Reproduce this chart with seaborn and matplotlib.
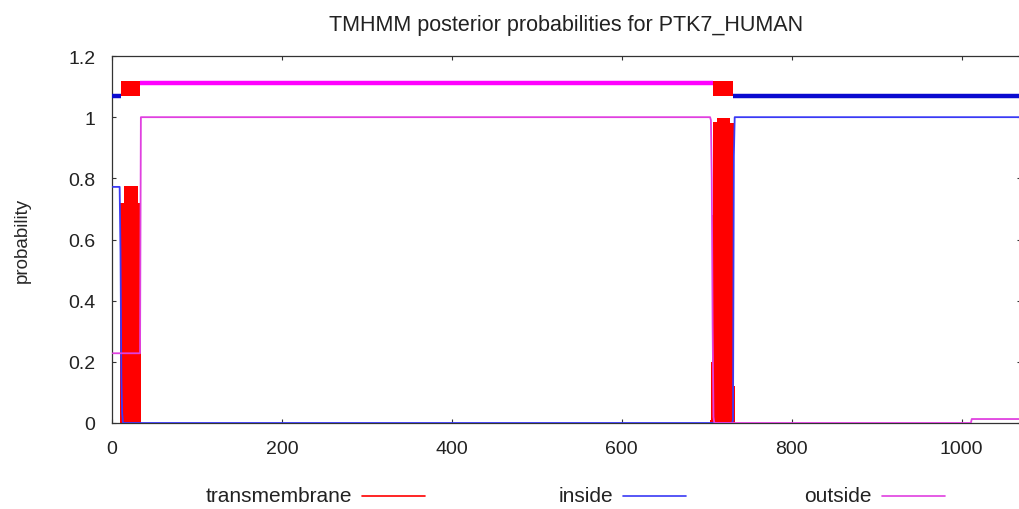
import matplotlib
matplotlib.use("Agg")
import matplotlib.pyplot as plt
from matplotlib.lines import Line2D
from matplotlib.ticker import FuncFormatter
import seaborn as sns

# ---------------- data ----------------
protein = "PTK7_HUMAN"
seq_length = 1070

# posterior probability of "inside" (residue, probability) breakpoints
inside_res = [1, 9, 10, 11, 12, 13, 730, 731, 732, 733, 1070]
inside_prob = [0.772, 0.772, 0.56, 0.15, 0.03, 0.0, 0.0, 0.01, 0.874, 1.0, 1.0]

# posterior probability of "outside"
outside_res = [1, 33, 34, 704, 705, 706, 707, 708, 709, 1011, 1012, 1070]
outside_prob = [0.228, 0.228, 1.0, 1.0, 0.99, 0.80, 0.32, 0.02, 0.0, 0.0, 0.013, 0.013]

# posterior probability of "transmembrane" (impulses), non-zero residues only
tm_res = [11, 12, 13, 14, 15, 16, 17, 18, 19, 20, 21, 22, 23, 24, 25, 26, 27, 28,
          29, 30, 31, 32, 33,
          705, 706, 707, 708, 709, 710, 711, 712, 713, 714, 715, 716, 717, 718,
          719, 720, 721, 722, 723, 724, 725, 726, 727, 728, 729, 730, 731, 732]
tm_prob = [0.72, 0.72, 0.72, 0.72, 0.775, 0.775, 0.775, 0.775, 0.775, 0.775, 0.775,
           0.775, 0.775, 0.775, 0.775, 0.775, 0.775, 0.775, 0.775, 0.775, 0.72, 0.72, 0.72,
           0.01, 0.20, 0.68, 0.985, 0.985, 0.985, 0.985, 0.985, 0.997, 0.997, 0.997,
           0.997, 0.997, 0.997, 0.997, 0.997, 0.997, 0.997, 0.997, 0.997, 0.997, 0.997,
           0.98, 0.98, 0.98, 0.98, 0.98, 0.12]

# predicted topology
topo_label = ["inside", "TMhelix", "outside", "TMhelix", "inside"]
topo_start = [1, 11, 34, 708, 732]
topo_end = [10, 33, 707, 731, 1070]

x_ticks = [0, 200, 400, 600, 800, 1000]
y_ticks = [0, 0.2, 0.4, 0.6, 0.8, 1.0, 1.2]
legend_labels = ["transmembrane", "inside", "outside"]

# ---------------- style ----------------
sns.set_style("ticks")
plt.rcParams["font.family"] = ["Liberation Sans", "DejaVu Sans"]
plt.rcParams["text.color"] = "#222222"

C_TM = "#ff0000"
C_IN = "#3a3af5"
C_IN_TOP = "#0a0ad0"
C_OUT = "#e040e0"
C_OUT_TOP = "#ff00ff"

W, H = 1019, 510
fig = plt.figure(figsize=(W / 100, H / 100), dpi=100)
ax = fig.add_axes([112 / W, 86 / H, (1021 - 112) / W, 367 / H])

# transmembrane impulses
ax.bar(tm_res, tm_prob, width=2.0, color=C_TM, linewidth=0, zorder=2)

# inside / outside posterior lines
sns.lineplot(x=inside_res, y=inside_prob, ax=ax, color=C_IN, linewidth=1.3,
             estimator=None, zorder=3)
sns.lineplot(x=outside_res, y=outside_prob, ax=ax, color=C_OUT, linewidth=1.3,
             estimator=None, zorder=4)

# topology bar above the curves
for lab, s, e in zip(topo_label, topo_start, topo_end):
    if lab == "inside":
        ax.hlines(1.068, s - 0.5, e + 0.5, color=C_IN_TOP, linewidth=3.2, zorder=3)
    elif lab == "outside":
        ax.hlines(1.112, s - 0.5, e + 0.5, color=C_OUT_TOP, linewidth=3.2, zorder=3)
    else:
        ax.fill_between([s - 0.5, e + 0.5], 1.068, 1.117, color=C_TM, linewidth=0, zorder=4)

ax.set_xlim(0, seq_length)
ax.set_ylim(0, 1.2)
ax.set_xticks(x_ticks)
ax.set_yticks(y_ticks)
ax.yaxis.set_major_formatter(FuncFormatter(lambda v, p: f"{v:g}"))
ax.tick_params(direction="in", top=True, right=True, length=3.2, width=0.8,
               labelsize=14, colors="#333333", labelcolor="#222222")
ax.tick_params(axis="x", pad=12)
ax.tick_params(axis="y", pad=12)
for sp in ax.spines.values():
    sp.set_visible(True)
    sp.set_color("#333333")
    sp.set_linewidth(0.9)

ax.set_xlabel("")
ax.set_ylabel("probability", fontsize=13.5)
ax.yaxis.set_label_coords(-0.089, 0.5)
ax.set_title(f"TMHMM posterior probabilities for {protein}", fontsize=15.5, pad=19)

# legend in gnuplot style: text then line sample
leg_colors = [C_TM, C_IN, C_OUT]
leg_text_end = [352, 613, 872]
for lab, col, xe in zip(legend_labels, leg_colors, leg_text_end):
    y = 1 - 497 / H
    fig.text(xe / W, y, lab, ha="right", va="center", fontsize=15)
    fig.add_artist(Line2D([(xe + 10) / W, (xe + 73) / W], [y, y],
                          transform=fig.transFigure, color=col, linewidth=1.2))

fig.savefig("out.png", dpi=100)
